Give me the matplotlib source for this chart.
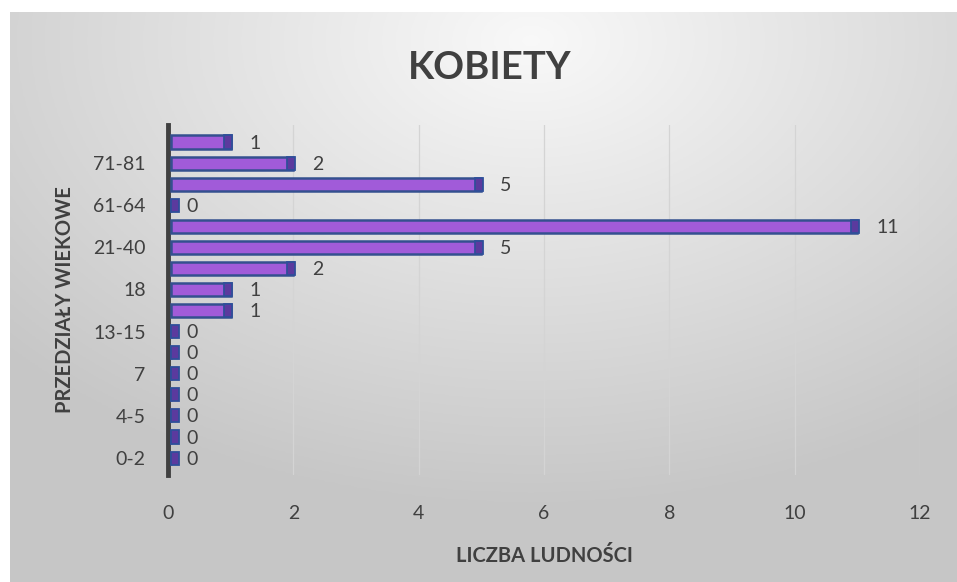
import numpy as np
import matplotlib
matplotlib.use("Agg")
from matplotlib import pyplot as plt

# age groups, bottom to top (only every other one is labelled in the chart)
age_groups = ["0-2", "3", "4-5", "6", "7", "8-12", "13-15", "16-17",
              "18", "19-20", "21-40", "41-60", "61-64", "65-70", "71-81", "82+"]
counts = [0, 0, 0, 0, 0, 0, 0, 1, 1, 2, 5, 11, 0, 5, 2, 1]
x_ticks = [0, 2, 4, 6, 8, 10, 12]

plt.rcParams['font.family'] = ['Lato', 'DejaVu Sans']
text_col = "#404040"

fig = plt.figure(figsize=(9.57, 5.82), dpi=100)
fig.patch.set_facecolor("white")

# gradient background of the chart area
bg = fig.add_axes([0.01, 0.0, 0.99, 0.98], zorder=0)
gx, gy = np.meshgrid(np.linspace(0, 1, 300), np.linspace(1, 0, 200))
r = np.sqrt(((gx - 0.55) * 1.1) ** 2 + ((gy - 0.95) * 1.0) ** 2)
shade = np.clip(0.975 - 0.24 * r, 0.78, 0.975)
bg.imshow(np.dstack([shade, shade, shade]), aspect="auto", extent=(0, 1, 0, 1))
bg.set_axis_off()

ax = fig.add_axes([0.1755, 0.184, 0.786, 0.601], zorder=1)
ax.set_facecolor("none")

y = np.arange(len(counts))
vals = np.array(counts, dtype=float)
bar_h = 0.62
body = np.where(vals > 0, vals - 0.05, 0)
ax.barh(y, body, left=0.05, height=bar_h, color="#a15bd9",
        edgecolor="#34508f", linewidth=1.8, zorder=3)
# small 3d end cap
cap_left = np.maximum(vals - 0.1, 0.05)
ax.barh(y, 0.12, left=cap_left, height=bar_h, color="#5b3a9e",
        edgecolor="#2f4f9a", linewidth=1.3, zorder=4)

for yi, v in zip(y, counts):
    ax.text(v + 0.3, yi - 0.05, str(v), va="center", ha="left",
            fontsize=14, color=text_col, zorder=5)

ax.set_xlim(0, 12)
ax.set_ylim(-0.8, 15.8)
ax.set_xticks(x_ticks)
ax.set_xticklabels([str(t) for t in x_ticks])
ax.set_yticks(y[::2])
ax.set_yticklabels(age_groups[::2])
ax.tick_params(axis="x", length=0, pad=22, labelsize=14, labelcolor=text_col)
ax.tick_params(axis="y", length=0, pad=16, labelsize=14, labelcolor=text_col)
ax.grid(axis="x", color="#d4d4d4", linewidth=0.9, zorder=1)
for side in ["top", "right", "bottom"]:
    ax.spines[side].set_visible(False)
ax.spines["left"].set_color("#404040")
ax.spines["left"].set_linewidth(3.5)

ax.set_xlabel("LICZBA LUDNOŚCI", fontsize=14.5, fontweight="bold",
              color=text_col, labelpad=17)
ax.set_ylabel("PRZEDZIAŁY WIEKOWE", fontsize=14.5, fontweight="bold",
              color=text_col, labelpad=13)
fig.text(0.512, 0.883, "KOBIETY", ha="center", va="center",
         fontsize=27.5, fontweight="bold", color=text_col)

fig.savefig("out.png", dpi=100)
